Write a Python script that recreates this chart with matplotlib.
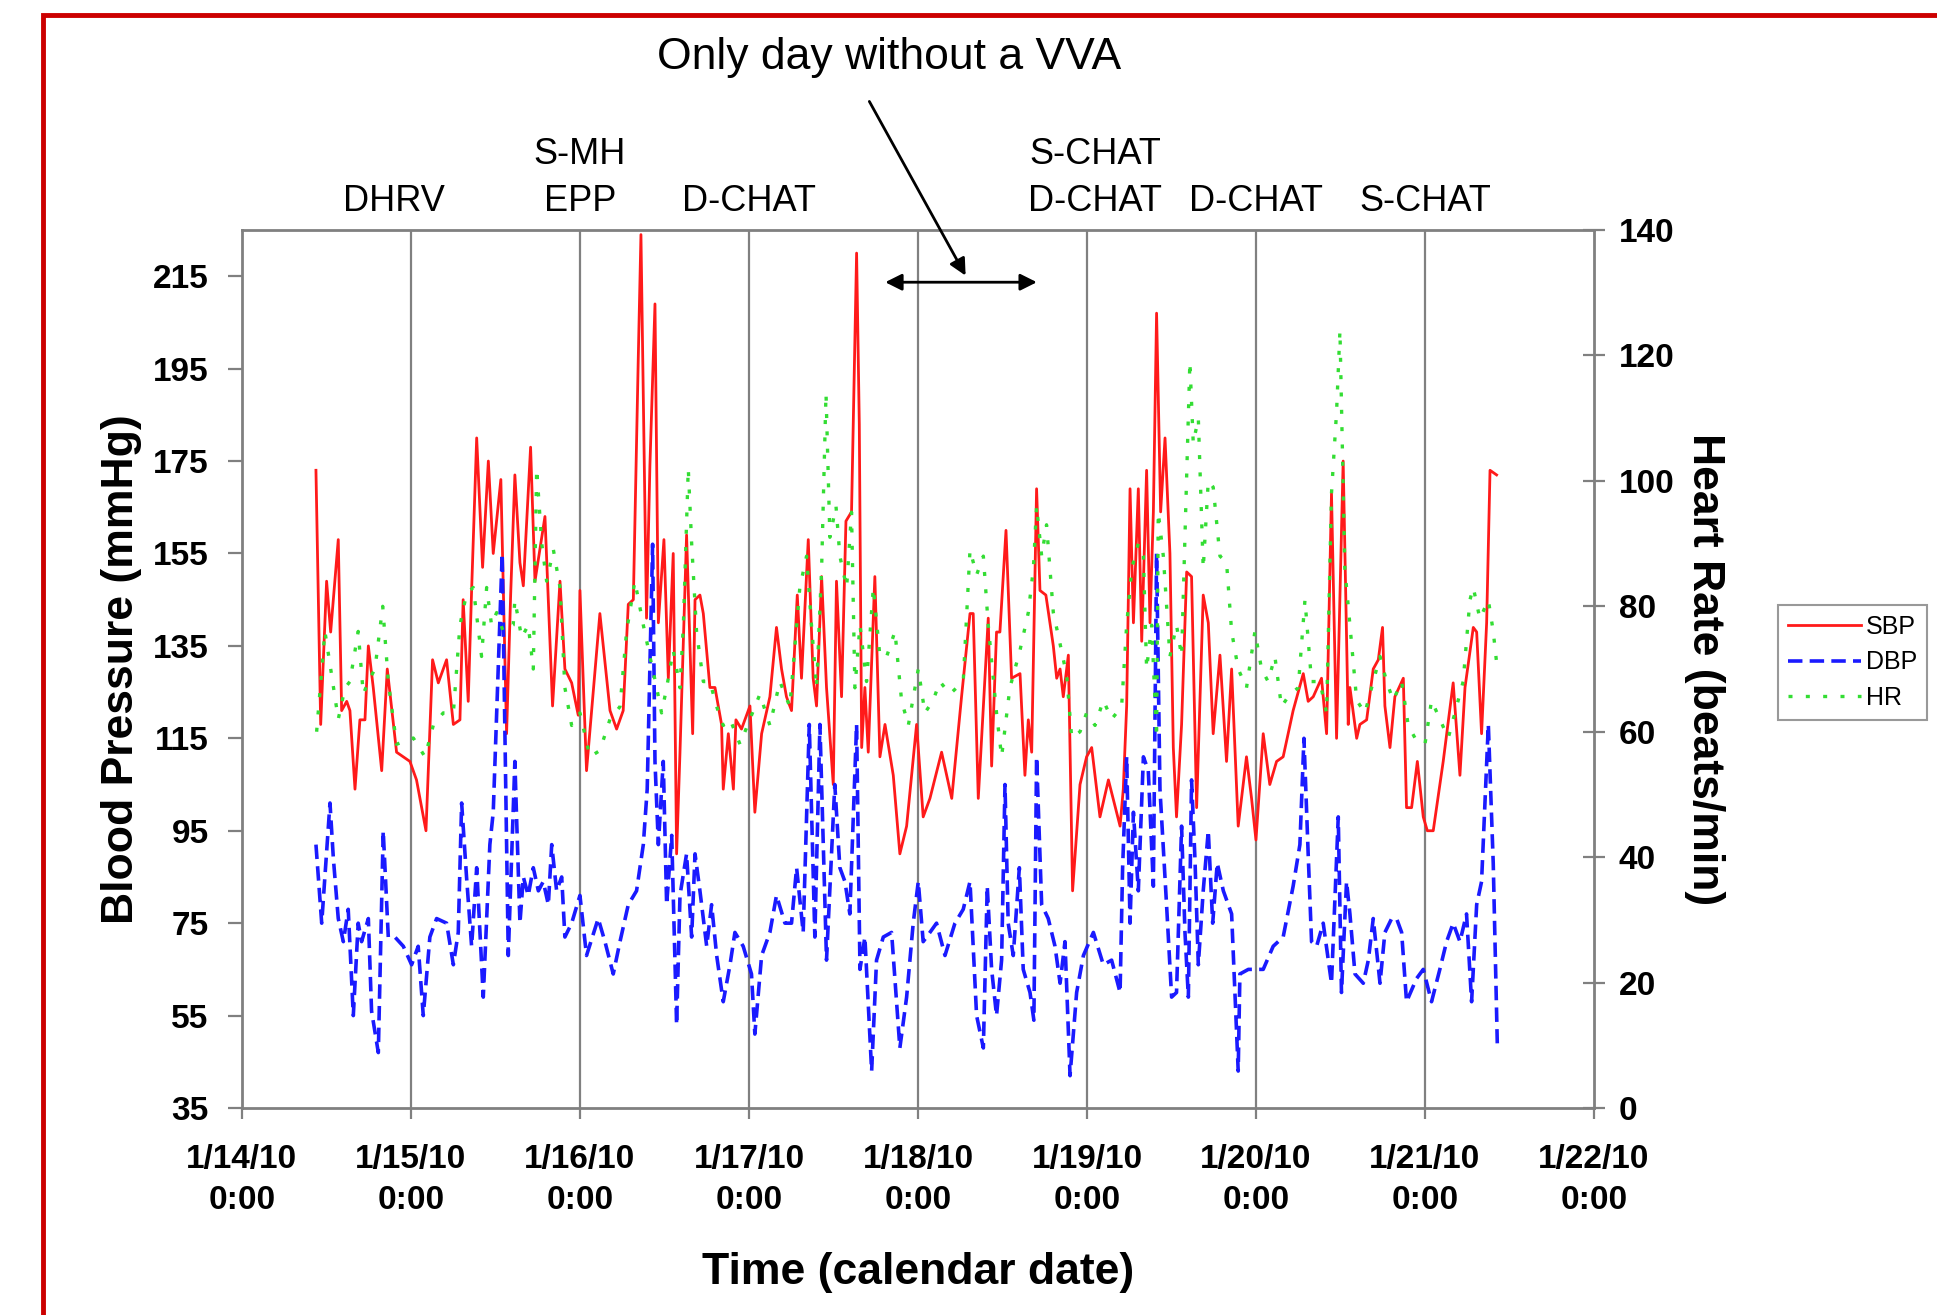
import matplotlib
matplotlib.use("Agg")
import matplotlib.pyplot as plt
from matplotlib.patches import Rectangle

plt.rcParams['font.family'] = ['Liberation Sans', 'DejaVu Sans']

# time in days after 1/14/10 0:00
sbp_day = [0.438, 0.466, 0.501, 0.525, 0.570, 0.590, 0.620, 0.639, 0.669, 0.698, 0.728, 0.748, 0.777, 0.827,
           0.860, 0.915, 0.994, 1.033, 1.089, 1.128, 1.162, 1.211, 1.251, 1.290, 1.309, 1.339, 1.359, 1.389,
           1.424, 1.458, 1.487, 1.532, 1.566, 1.590, 1.615, 1.645, 1.665, 1.708, 1.734, 1.793, 1.813, 1.838,
           1.882, 1.911, 1.951, 1.990, 2.000, 2.039, 2.118, 2.178, 2.217, 2.256, 2.286, 2.316, 2.345, 2.361,
           2.394, 2.414, 2.444, 2.464, 2.497, 2.523, 2.552, 2.572, 2.592, 2.631, 2.667, 2.681, 2.710, 2.730,
           2.769, 2.799, 2.838, 2.848, 2.878, 2.908, 2.923, 2.956, 3.006, 3.035, 3.075, 3.124, 3.163, 3.193,
           3.222, 3.252, 3.286, 3.311, 3.351, 3.380, 3.400, 3.430, 3.459, 3.499, 3.518, 3.548, 3.574, 3.607,
           3.637, 3.653, 3.667, 3.686, 3.706, 3.745, 3.775, 3.805, 3.854, 3.893, 3.933, 3.992, 4.031, 4.071,
           4.140, 4.200, 4.258, 4.308, 4.327, 4.357, 4.416, 4.436, 4.465, 4.485, 4.521, 4.554, 4.604, 4.633,
           4.653, 4.673, 4.702, 4.722, 4.757, 4.801, 4.821, 4.841, 4.860, 4.890, 4.915, 4.959, 4.998, 5.028,
           5.077, 5.127, 5.196, 5.215, 5.235, 5.255, 5.275, 5.304, 5.324, 5.353, 5.373, 5.393, 5.412, 5.436,
           5.462, 5.491, 5.511, 5.530, 5.560, 5.590, 5.619, 5.649, 5.688, 5.718, 5.747, 5.787, 5.826, 5.856,
           5.895, 5.944, 5.974, 6.000, 6.043, 6.082, 6.122, 6.161, 6.220, 6.280, 6.309, 6.339, 6.388, 6.418,
           6.447, 6.477, 6.516, 6.546, 6.556, 6.596, 6.615, 6.655, 6.694, 6.724, 6.749, 6.763, 6.793, 6.822,
           6.872, 6.891, 6.921, 6.955, 6.990, 7.014, 7.049, 7.108, 7.167, 7.207, 7.237, 7.286, 7.306, 7.335,
           7.365, 7.385, 7.424]
sbp = [173, 118, 149, 138, 158, 121, 123, 121, 104, 119, 119, 135, 126, 108,
       130, 112, 110, 106, 95, 132, 127, 132, 118, 119, 145, 123, 147, 180,
       152, 175, 155, 171, 116, 146, 172, 153, 148, 178, 149, 163, 145, 122,
       149, 130, 127, 120, 147, 108, 142, 121, 117, 121, 144, 145, 197, 224,
       141, 174, 209, 140, 158, 128, 155, 90, 112, 159, 116, 145, 146, 142,
       126, 126, 118, 104, 116, 104, 119, 117, 122, 99, 116, 124, 139, 130,
       124, 121, 146, 128, 158, 128, 122, 150, 126, 105, 149, 124, 162, 164,
       220, 183, 113, 126, 112, 150, 111, 118, 107, 90, 96, 118, 98, 102,
       112, 102, 124, 142, 142, 102, 141, 109, 138, 138, 160, 128, 129, 107,
       119, 112, 169, 147, 146, 135, 128, 130, 124, 133, 82, 105, 111, 113,
       98, 106, 96, 104, 122, 169, 140, 169, 136, 173, 140, 164, 207, 164,
       180, 155, 113, 98, 118, 151, 150, 100, 146, 140, 116, 133, 110, 130,
       96, 111, 102, 93, 116, 105, 110, 111, 121, 129, 123, 124, 128, 116,
       168, 115, 175, 118, 126, 115, 118, 119, 130, 132, 139, 122, 113, 124,
       128, 100, 100, 110, 98, 95, 95, 110, 127, 107, 126, 139, 138, 116,
       140, 173, 172]

dbp_day = [0.438, 0.472, 0.521, 0.541, 0.570, 0.600, 0.629, 0.659, 0.688, 0.708, 0.748, 0.767, 0.807, 0.836,
           0.866, 0.905, 0.955, 1.004, 1.043, 1.073, 1.112, 1.152, 1.211, 1.251, 1.280, 1.300, 1.329, 1.359,
           1.389, 1.428, 1.467, 1.487, 1.540, 1.576, 1.615, 1.625, 1.645, 1.665, 1.694, 1.724, 1.754, 1.783,
           1.813, 1.833, 1.862, 1.892, 1.911, 1.951, 2.000, 2.039, 2.108, 2.148, 2.197, 2.237, 2.286, 2.335,
           2.375, 2.398, 2.430, 2.444, 2.464, 2.493, 2.513, 2.543, 2.572, 2.592, 2.631, 2.661, 2.681, 2.710,
           2.750, 2.779, 2.809, 2.848, 2.888, 2.917, 2.966, 3.015, 3.035, 3.075, 3.124, 3.163, 3.213, 3.252,
           3.282, 3.321, 3.357, 3.390, 3.420, 3.459, 3.508, 3.538, 3.568, 3.597, 3.637, 3.657, 3.686, 3.726,
           3.755, 3.795, 3.844, 3.893, 3.933, 3.972, 4.002, 4.031, 4.071, 4.110, 4.160, 4.219, 4.268, 4.308,
           4.347, 4.387, 4.410, 4.436, 4.465, 4.495, 4.515, 4.534, 4.564, 4.600, 4.623, 4.663, 4.686, 4.702,
           4.732, 4.771, 4.811, 4.841, 4.870, 4.900, 4.939, 4.979, 5.038, 5.097, 5.146, 5.196, 5.211, 5.235,
           5.255, 5.275, 5.304, 5.334, 5.363, 5.393, 5.412, 5.432, 5.471, 5.501, 5.530, 5.560, 5.580, 5.600,
           5.619, 5.639, 5.659, 5.688, 5.718, 5.744, 5.771, 5.807, 5.856, 5.895, 5.905, 5.955, 6.043, 6.102,
           6.161, 6.220, 6.260, 6.284, 6.309, 6.329, 6.359, 6.398, 6.447, 6.487, 6.506, 6.536, 6.556, 6.586,
           6.635, 6.665, 6.694, 6.734, 6.763, 6.803, 6.832, 6.862, 6.891, 6.950, 6.990, 7.039, 7.088, 7.128,
           7.167, 7.207, 7.246, 7.276, 7.306, 7.335, 7.375, 7.404, 7.428]
dbp = [92, 75, 101, 89, 76, 71, 78, 55, 75, 71, 76, 56, 47, 95,
       72, 72, 70, 66, 70, 55, 72, 76, 75, 66, 73, 101, 85, 70,
       87, 59, 92, 99, 155, 68, 110, 98, 75, 85, 81, 87, 82, 84,
       79, 92, 82, 85, 72, 75, 81, 68, 76, 71, 64, 71, 79, 82,
       92, 104, 157, 110, 92, 110, 79, 94, 53, 81, 90, 72, 90, 82,
       70, 79, 68, 58, 66, 73, 70, 64, 51, 68, 73, 81, 75, 75,
       87, 73, 118, 72, 118, 67, 105, 87, 84, 77, 118, 65, 72, 43,
       67, 72, 73, 48, 59, 75, 84, 71, 73, 75, 68, 75, 78, 84,
       55, 48, 83, 65, 55, 67, 105, 75, 68, 87, 65, 60, 54, 111,
       79, 76, 70, 62, 71, 42, 60, 68, 73, 66, 67, 60, 87, 111,
       75, 99, 82, 111, 108, 83, 155, 104, 79, 59, 60, 96, 73, 59,
       106, 89, 66, 82, 95, 75, 88, 82, 77, 43, 64, 65, 65, 70,
       72, 83, 92, 115, 90, 71, 70, 75, 62, 98, 60, 84, 77, 64,
       62, 67, 76, 62, 73, 76, 76, 73, 58, 63, 65, 58, 65, 71,
       75, 71, 77, 58, 79, 84, 118, 88, 49]

hr_day = [0.442, 0.491, 0.531, 0.570, 0.610, 0.639, 0.688, 0.718, 0.748, 0.787, 0.833, 0.866, 0.915, 1.014,
          1.083, 1.132, 1.191, 1.251, 1.290, 1.329, 1.369, 1.418, 1.448, 1.477, 1.507, 1.546, 1.605, 1.615,
          1.655, 1.694, 1.724, 1.744, 1.774, 1.803, 1.843, 1.882, 1.911, 1.951, 2.000, 2.059, 2.118, 2.178,
          2.237, 2.276, 2.325, 2.375, 2.414, 2.454, 2.483, 2.513, 2.552, 2.592, 2.612, 2.641, 2.661, 2.690,
          2.730, 2.769, 2.809, 2.848, 2.888, 2.947, 3.006, 3.065, 3.124, 3.183, 3.242, 3.301, 3.341, 3.370,
          3.400, 3.430, 3.456, 3.479, 3.515, 3.538, 3.578, 3.607, 3.627, 3.657, 3.696, 3.736, 3.775, 3.815,
          3.864, 3.903, 3.943, 4.002, 4.041, 4.090, 4.130, 4.189, 4.268, 4.308, 4.347, 4.387, 4.416, 4.465,
          4.495, 4.544, 4.604, 4.653, 4.683, 4.702, 4.732, 4.761, 4.801, 4.841, 4.880, 4.910, 4.959, 4.998,
          5.048, 5.097, 5.146, 5.205, 5.235, 5.265, 5.304, 5.334, 5.353, 5.383, 5.412, 5.422, 5.452, 5.491,
          5.530, 5.560, 5.609, 5.629, 5.659, 5.688, 5.718, 5.747, 5.787, 5.826, 5.856, 5.895, 5.944, 5.994,
          6.033, 6.072, 6.112, 6.151, 6.201, 6.250, 6.290, 6.329, 6.378, 6.418, 6.447, 6.477, 6.497, 6.526,
          6.556, 6.596, 6.645, 6.694, 6.734, 6.773, 6.812, 6.862, 6.901, 6.941, 7.000, 7.039, 7.088, 7.138,
          7.177, 7.226, 7.266, 7.286, 7.325, 7.375, 7.404, 7.424]
hr = [60, 76, 69, 62, 67, 68, 76, 66, 68, 70, 80, 68, 58, 59,
      56, 61, 63, 63, 77, 82, 83, 72, 83, 77, 79, 76, 77, 81,
      75, 77, 70, 102, 90, 84, 89, 83, 67, 61, 63, 56, 57, 62,
      64, 76, 84, 77, 72, 67, 63, 67, 73, 67, 77, 102, 90, 76,
      68, 68, 64, 61, 62, 58, 62, 66, 61, 68, 64, 83, 88, 77,
      67, 86, 114, 91, 96, 88, 83, 95, 67, 77, 68, 83, 72, 72,
      76, 65, 61, 70, 63, 65, 68, 66, 68, 89, 85, 88, 77, 63,
      56, 67, 73, 79, 86, 96, 88, 93, 79, 74, 69, 59, 60, 63,
      61, 65, 62, 64, 77, 86, 90, 88, 70, 77, 59, 95, 88, 72,
      77, 72, 119, 106, 110, 86, 100, 99, 88, 87, 76, 70, 67, 76,
      70, 68, 72, 64, 66, 67, 81, 68, 68, 63, 98, 111, 124, 86,
      77, 65, 63, 68, 72, 68, 65, 68, 61, 59, 58, 65, 62, 59,
      63, 68, 81, 83, 78, 81, 76, 71]

date_ticks = [0, 1, 2, 3, 4, 5, 6, 7, 8]
date_labels = ['1/14/10\n0:00', '1/15/10\n0:00', '1/16/10\n0:00', '1/17/10\n0:00', '1/18/10\n0:00',
               '1/19/10\n0:00', '1/20/10\n0:00', '1/21/10\n0:00', '1/22/10\n0:00']

# study labels above the plot; row 0 = lower line, 1 = upper line
event_day = [0.9, 2.0, 2.0, 3.0, 5.05, 5.05, 6.0, 7.0]
event_text = ['DHRV', 'S-MH', 'EPP', 'D-CHAT', 'S-CHAT', 'D-CHAT', 'D-CHAT', 'S-CHAT']
event_row = [0, 1, 0, 0, 1, 0, 0, 0]

fig = plt.figure(figsize=(19.37, 13.15), dpi=100)
ax = fig.add_axes([0.1249, 0.1574, 0.698, 0.6677])

grid_col = '#808080'
for d in date_ticks[1:-1]:
    ax.axvline(d, color=grid_col, lw=1.6, zorder=1)

l1, = ax.plot(sbp_day, sbp, color='#ff1a1a', lw=2.0, label='SBP', zorder=3)
l2, = ax.plot(dbp_day, dbp, color='#1a1aff', lw=2.6, dashes=(4, 2), label='DBP', zorder=4)

ax.set_xlim(0, 8)
ax.set_ylim(35, 225)
ax.set_yticks(range(35, 216, 20))
ax.set_xticks(date_ticks)
ax.set_xticklabels(date_labels, linespacing=1.4)
for s in ax.spines.values():
    s.set_color(grid_col)
    s.set_linewidth(2)
ax.tick_params(axis='y', direction='out', length=10, width=1.6, color=grid_col, pad=14,
               labelsize=24)
ax.tick_params(axis='x', direction='out', length=8, width=1.6, color=grid_col, pad=18,
               labelsize=24)
for t in ax.get_xticklabels() + ax.get_yticklabels():
    t.set_fontweight('bold')

ax2 = ax.twinx()
l3, = ax2.plot(hr_day, hr, color='#33dd33', lw=2.4, dashes=(1.2, 4), label='HR', zorder=5)
ax2.set_ylim(0, 140)
ax2.set_yticks(range(0, 141, 20))
for s in ax2.spines.values():
    s.set_visible(False)
ax2.tick_params(axis='y', direction='inout', length=16, width=1.6, color=grid_col, pad=10,
                labelsize=24)
for t in ax2.get_yticklabels():
    t.set_fontweight('bold')

ax.set_xlabel('Time (calendar date)', fontsize=32, fontweight='bold', labelpad=26)
ax.set_ylabel('Blood Pressure (mmHg)', fontsize=32, fontweight='bold', labelpad=8)
ax2.set_ylabel('Heart Rate (beats/min)', fontsize=32, fontweight='bold', rotation=270,
               labelpad=36)

for d, txt, row in zip(event_day, event_text, event_row):
    y = 1.032 if row == 0 else 1.086
    ax.text(d, y, txt, transform=ax.get_xaxis_transform(), ha='center', va='center',
            fontsize=26, clip_on=False)

fig.text(889 / 1937, 1 - 57 / 1315, 'Only day without a VVA', ha='center', va='center',
         fontsize=32)
ax.annotate('', xy=(4.29, 214.6), xycoords='data',
            xytext=(868 / 1937, 1 - 99 / 1315), textcoords='figure fraction',
            arrowprops=dict(arrowstyle='-|>', color='black', lw=2, mutation_scale=25),
            annotation_clip=False)
ax.annotate('', xy=(3.79, 213.7), xytext=(4.72, 213.7),
            arrowprops=dict(arrowstyle='<|-|>', color='black', lw=2, mutation_scale=25))

leg = fig.legend([l1, l2, l3], ['SBP', 'DBP', 'HR'], loc='upper left',
                 bbox_to_anchor=(1778 / 1937, 1 - 605 / 1315), borderaxespad=0, fontsize=18,
                 handlelength=2.9, fancybox=False, frameon=True, edgecolor=grid_col,
                 labelspacing=0.45, handletextpad=0.2, borderpad=0.4)
leg.get_frame().set_linewidth(1.5)

frame_left = 43 / 1937
frame_top = 1 - 15 / 1315
fig.patches.append(Rectangle((frame_left, -0.2), 1.2, frame_top + 0.2,
                             transform=fig.transFigure, fill=False, edgecolor='#cc0000',
                             lw=3.5, clip_on=False))

fig.savefig('out.png', dpi=100)
